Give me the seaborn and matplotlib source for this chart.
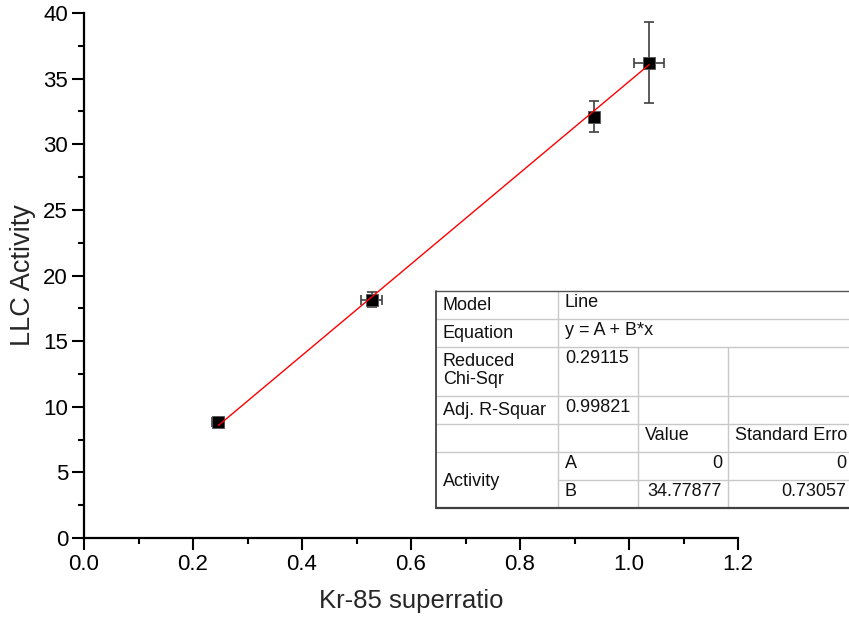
import matplotlib
matplotlib.use("Agg")
import matplotlib.pyplot as plt
import seaborn as sns
import numpy as np
import pandas as pd
from matplotlib.ticker import MultipleLocator

# ---- data ----
superratio = [0.2464, 0.528, 0.935, 1.037]
activity = [8.86, 18.15, 32.10, 36.22]
superratio_err = [0.011, 0.019, 0.0, 0.0275]
activity_err = [0.3, 0.58, 1.2, 3.07]
fit_A = 0.0
fit_B = 34.77877

x_ticks = [0.0, 0.2, 0.4, 0.6, 0.8, 1.0, 1.2]
y_ticks = [0, 5, 10, 15, 20, 25, 30, 35, 40]

table_rows = [
    ["Model", "Line", "", ""],
    ["Equation", "y = A + B*x", "", ""],
    ["Reduced\nChi-Sqr", "0.29115", "", ""],
    ["Adj. R-Squar", "0.99821", "", ""],
    ["", "", "Value", "Standard Erro"],
    ["Activity", "A", "0", "0"],
    ["", "B", "34.77877", "0.73057"],
]

df = pd.DataFrame({"x": superratio, "y": activity})
fit_x = [min(superratio), max(superratio)]
fit_df = pd.DataFrame({"x": fit_x, "y": [fit_A + fit_B * v for v in fit_x]})

sns.set_theme(style="ticks")
plt.rcParams["font.family"] = ["Liberation Sans", "DejaVu Sans"]

fig = plt.figure(figsize=(8.49, 6.25), dpi=100)
ax = fig.add_axes([84 / 849, 87 / 625, 654 / 849, 525 / 625])

ax.errorbar(superratio, activity, xerr=superratio_err, yerr=activity_err,
            fmt="none", ecolor="#404040", elinewidth=1.2, capsize=3.6,
            capthick=1.2, zorder=2)
sns.scatterplot(data=df, x="x", y="y", ax=ax, marker="s", s=70,
                color="black", edgecolor="#555555", linewidth=0.6, zorder=3)
sns.lineplot(data=fit_df, x="x", y="y", ax=ax, color="red", linewidth=1.0,
             zorder=4)

ax.set_xlim(0, 1.2)
ax.set_ylim(0, 40)
ax.set_xticks(x_ticks)
ax.set_xticklabels([f"{v:.1f}" for v in x_ticks])
ax.set_yticks(y_ticks)
ax.set_yticklabels([str(v) for v in y_ticks])
ax.xaxis.set_minor_locator(MultipleLocator(0.1))
ax.yaxis.set_minor_locator(MultipleLocator(2.5))
for s in ["top", "right"]:
    ax.spines[s].set_visible(False)
for s in ["left", "bottom"]:
    ax.spines[s].set_linewidth(1.6)
    ax.spines[s].set_color("black")
ax.tick_params(which="major", direction="out", length=8.5, width=1.5,
               labelsize=16, colors="black", pad=3)
ax.tick_params(which="minor", direction="out", length=4, width=1.5,
               colors="black")
ax.set_xlabel("Kr-85 superratio", fontsize=18.5, labelpad=10)
ax.set_ylabel("LLC Activity", fontsize=19.5, labelpad=5)

# ---- table overlay (pixel coordinates) ----
tax = fig.add_axes([0, 0, 1, 1], zorder=10)
tax.set_xlim(0, 849)
tax.set_ylim(625, 0)
tax.axis("off")

cols = [436, 558, 638, 728, 852]
rows = [291, 319, 347, 396, 424, 452, 480, 508]
tax.add_patch(plt.Rectangle((cols[0], rows[0]), cols[-1] - cols[0],
                            rows[-1] - rows[0], facecolor="white",
                            edgecolor="none", zorder=1))
inner = "#c8c8c8"
# horizontal inner lines
for i in range(1, len(rows) - 1):
    x0 = cols[1] if i == 6 else cols[0]
    tax.plot([x0, cols[-1]], [rows[i], rows[i]], color=inner, lw=1, zorder=2)
# vertical inner lines
tax.plot([cols[1], cols[1]], [rows[0], rows[-1]], color=inner, lw=1, zorder=2)
for c in (cols[2], cols[3]):
    tax.plot([c, c], [rows[2], rows[-1]], color=inner, lw=1, zorder=2)
# outer border
tax.plot([cols[0], cols[-1]], [rows[0], rows[0]], color="#555555", lw=1, zorder=3)
tax.plot([cols[0], cols[-1]], [rows[-1], rows[-1]], color="#404040", lw=1.6, zorder=3)
tax.plot([cols[0], cols[0]], [rows[0], rows[-1]], color="#404040", lw=1.3, zorder=3)

fs = 13
pad = 7
for r, row in enumerate(table_rows):
    top = rows[r]
    for c, txt in enumerate(row):
        if not txt:
            continue
        numeric = r >= 5 and c >= 2
        if c == 0 and r == 5:
            y = (rows[5] + rows[7]) / 2 + 1
            va = "center"
        elif c == 0:
            y = top + 6
            va = "top"
        else:
            y = top + 3
            va = "top"
        if numeric:
            tax.text(cols[c + 1] - pad + 1, y, txt, ha="right", va=va,
                     fontsize=fs, color="#111111", zorder=4, linespacing=1.05)
        else:
            tax.text(cols[c] + pad, y, txt, ha="left", va=va, fontsize=fs,
                     color="#111111", zorder=4, linespacing=1.05)

fig.savefig("out.png", dpi=100)
